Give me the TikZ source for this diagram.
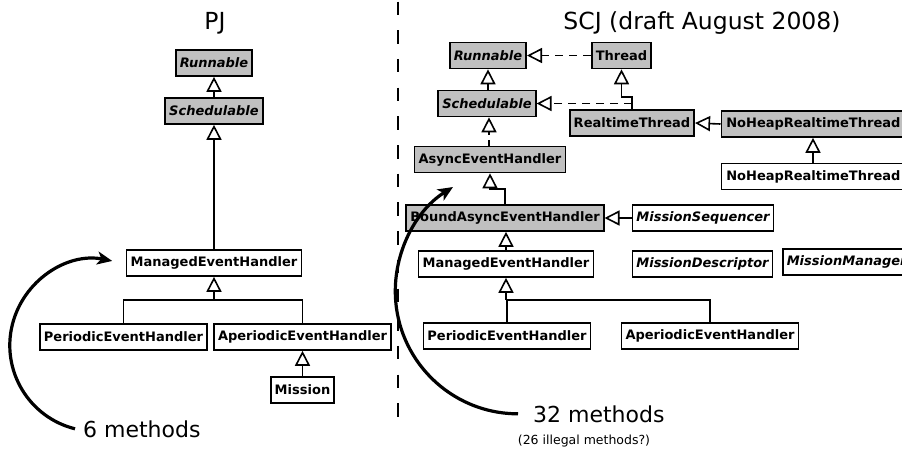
\documentclass[tikz,border=0pt]{standalone}
\usepackage{fontspec}
\setmainfont{DejaVu Sans}
\usetikzlibrary{arrows.meta,calc}
\definecolor{boxgray}{RGB}{192,192,192}
\tikzset{
  cls/.style={draw, line width=1.6pt, fill=white,
    font=\fontsize{13}{15}\selectfont\bfseries,
    minimum height=26pt, inner xsep=4pt, inner ysep=2pt},
  rtcls/.style={cls, fill=boxgray},
  iface/.style={cls, fill=boxgray, font=\fontsize{13}{15}\selectfont\bfseries\itshape},
  abscls/.style={cls, font=\fontsize{13}{15}\selectfont\bfseries\itshape},
  inh/.style={line width=1.6pt, -{Triangle[open, fill=white, length=15pt, width=15pt]}},
  impl/.style={inh, dash pattern=on 8pt off 6pt},
  link/.style={line width=1.6pt},
  callout/.style={line width=3.2pt, -{Stealth[length=15pt, width=13pt, inset=4pt]}},
  heading/.style={font=\fontsize{23.5}{27}\selectfont, anchor=base, inner sep=0pt},
  count/.style={font=\fontsize{22}{26}\selectfont, anchor=base west, inner sep=0pt},
  note/.style={font=\fontsize{12.5}{14}\selectfont, anchor=base, inner sep=0pt},
  widecls/.style={anchor=west, minimum width=190pt, align=left, text width=180pt},
}
\begin{document}
\begin{tikzpicture}[x=1pt, y=-1pt]
  \useasboundingbox (0,0) rectangle (902,448);

  % ---------------- PJ hierarchy ----------------
  \node[heading] (pj) at (215,29) {PJ};
  \node[iface] (lRun)   at (214,63)   {Runnable};
  \node[iface] (lSched) at (214,111)  {Schedulable};
  \node[cls]   (lMEH)   at (214,263)  {ManagedEventHandler};
  \node[cls]   (lPEH)   at (123.5,337) {PeriodicEventHandler};
  \node[cls]   (lAEH)   at (302.5,337) {AperiodicEventHandler};
  \node[cls]   (lMis)   at (302.5,390) {Mission};

  \draw[inh] (lSched.north) -- (lRun.south);
  \draw[inh] (lMEH.north) -- (lSched.south);
  \coordinate (lj) at (214,300);
  \draw[link] (lPEH.north) |- (lj) -| (lAEH.north);
  \draw[inh] (lj) -- (lMEH.south);
  \draw[inh] (lMis.north) -- (lAEH.south);

  \node[count] (m6) at (83,437) {6 methods};
  \draw[callout] ([xshift=-8pt]m6.west) arc[start angle=104, end angle=281, radius=86];

  % ---------------- separator ----------------
  \coordinate (sepTop) at (398,1.5);
  \coordinate (sepBot) at (398,421);
  \draw[line width=1.5pt, dash pattern=on 13.5pt off 15.2pt] (sepTop) -- (sepBot);

  % ---------------- SCJ hierarchy ----------------
  \node[heading] (scj) at (702,29) {SCJ (draft August 2008)};
  \node[iface] (rRun)    at (488,55.5)  {Runnable};
  \node[rtcls] (rThread) at (621.5,55.5) {Thread};
  \node[iface] (rSched)  at (487,103.5) {Schedulable};
  \node[rtcls] (rRTT)    at (632,123)   {RealtimeThread};
  \node[rtcls, widecls] (nhA) at (720.5,124) {NoHeapRealtimeThread};
  \node[cls,   widecls] (nhB) at (720.5,176.5) {NoHeapRealtimeThread};
  \node[rtcls] (rAEH)    at (490,159.5) {AsyncEventHandler};
  \node[rtcls] (rBAEH)   at (505,218)   {BoundAsyncEventHandler};
  \node[abscls] (rMS)    at (703,218)   {MissionSequencer};
  \node[cls]   (rMEH)    at (506,264)   {ManagedEventHandler};
  \node[abscls] (rMD)    at (702.5,264) {MissionDescriptor};
  \node[abscls, anchor=west] (rMM) at (782,262) {MissionManager};
  \node[cls]   (rPEH)    at (507,336)   {PeriodicEventHandler};
  \node[cls]   (rAPEH)   at (710,336)   {AperiodicEventHandler};

  \draw[inh] (rSched.north -| rRun.south) -- (rRun.south);
  \draw[impl] (rThread.west) -- (rRun.east);
  \coordinate (rtk) at (632,97);
  \draw[inh] (rRTT.north) -- (rRTT.north |- rtk) -| (rThread.south);
  \draw[impl] (rRTT.north |- rSched.east) -- (rSched.east);
  \draw[inh] (nhA.west) -- (rRTT.east);
  \coordinate (nhx) at (813,0);
  \draw[inh] (nhB.north -| nhx) -- (nhA.south -| nhx);

  % AsyncEventHandler -> Schedulable, drawn with a small break
  \coordinate (agap) at (489,134.5);
  \draw[inh] (agap) -- (agap |- rSched.south);
  \draw[link] (agap |- rAEH.north) -- ++(0,-5.5);

  \coordinate (bk) at (505,189);
  \draw[inh] (rBAEH.north) -- (bk) -| (rAEH.south);
  \draw[inh] (rMS.west) -- (rBAEH.east);
  \draw[inh] (rMEH.north) -- (rMEH.north |- rBAEH.south);
  \coordinate (rj) at (506,300);
  \draw[link] (rPEH.north) -- (rPEH.north |- rj) -| (rAPEH.north);
  \draw[inh] (rj) -- (rj |- rMEH.south);

  \node[count] (m32) at (533,422) {32 methods};
  \node[note] (illegal) at (584,444) {(26 illegal methods?)};
  \draw[callout] ([xshift=-15pt]m32.west) arc[start angle=90, end angle=238, radius=122.7];
\end{tikzpicture}
\end{document}
